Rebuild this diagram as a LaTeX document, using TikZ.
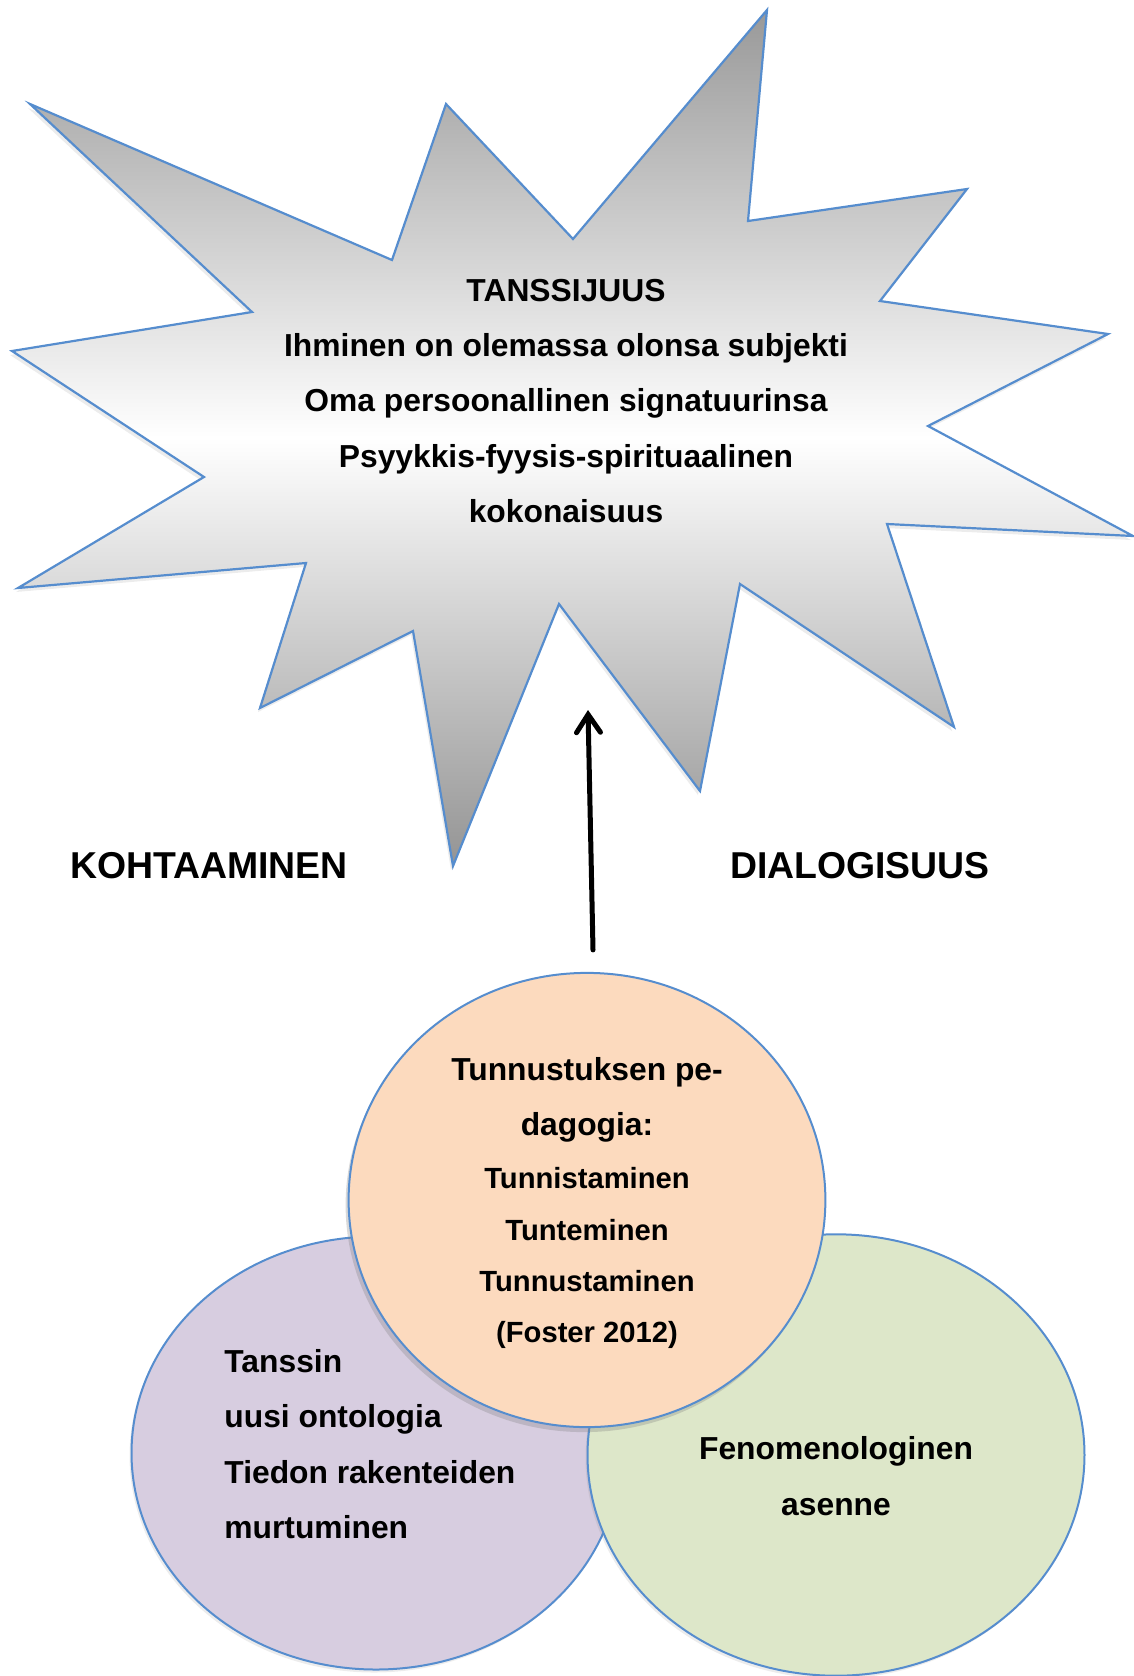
\documentclass[tikz,border=0pt]{standalone}
\usepackage{fontspec}
\setmainfont{Liberation Sans}
\usetikzlibrary{arrows.meta,positioning,shapes.geometric,shadows}

\definecolor{edgeblue}{RGB}{86,141,206}
\definecolor{peach}{RGB}{252,218,190}
\definecolor{lilac}{RGB}{215,205,224}
\definecolor{sage}{RGB}{221,231,201}
\pgfdeclareverticalshading{burstshade}{100bp}{color(0bp)=(black!42); color(25bp)=(black!42); color(50bp)=(white); color(75bp)=(black!40); color(100bp)=(black!40)}

\begin{document}
\begin{tikzpicture}[
  x=0.5pt, y=-0.5pt,
  font=\bfseries,
  burst/.style={draw=edgeblue, line width=1.1pt, shading=burstshade, line join=miter},
  blob/.style={ellipse, draw=edgeblue, line width=1pt, inner sep=0pt},
  txt/.style={inner sep=0pt, align=center, font=\bfseries\fontsize{15.9}{27.7}\selectfont},
  side/.style={inner sep=0pt, font=\bfseries\fontsize{18.7}{22}\selectfont},
  arr/.style={-{Straight Barb[length=9pt,width=12pt,line cap=round]}, line width=2.5pt, line cap=round}
]
\useasboundingbox (0,0) rectangle (1134,1676);

% star
\path[burst, drop shadow={shadow xshift=-1pt, shadow yshift=-2pt, opacity=.15}]
  (30,104) -- (392,260) -- (446,104) -- (573,239) -- (767,10) -- (748,221)
  -- (967,189) -- (880,301) -- (1108,334) -- (928,426) -- (1133,536)
  -- (887,524) -- (954,727) -- (740,584) -- (700,791) -- (559,604)
  -- (453,866) -- (413,631) -- (260,708) -- (306,563) -- (18,588)
  -- (204,477) -- (12,351) -- (252,312) -- cycle;
\node[txt] (core) at (566,401)
  {TANSSIJUUS\\Ihminen on olemassa olonsa subjekti\\Oma persoonallinen signatuurinsa\\Psyykkis-fyysis-spirituaalinen\\kokonaisuus};

\node[side] (koht) at (209,866) {KOHTAAMINEN};
\node[side] (dial) at (860,866) {DIALOGISUUS};

% circles
\node[blob, fill=lilac, minimum width=244.5pt, minimum height=216.5pt,
  drop shadow={shadow xshift=-1pt, shadow yshift=-1.5pt, opacity=.15}] (onto) at (376,1453) {};
\node[blob, fill=sage, minimum width=248.5pt, minimum height=220.7pt,
  drop shadow={shadow xshift=-1pt, shadow yshift=-1.5pt, opacity=.15}] (fen) at (836,1455) {};
\node[blob, fill=peach, minimum width=238.4pt, minimum height=227.1pt,
  drop shadow={shadow xshift=-1.5pt, shadow yshift=-2.5pt, opacity=.3}] (ped) at (587,1200) {};

\node[txt, font=\bfseries\fontsize{14.6}{25.6}\selectfont] (pedtxt) at ([yshift=-1.5pt]ped)
  {{\fontsize{15.9}{27.7}\selectfont Tunnustuksen pe-}\\[2pt]{\fontsize{15.9}{27.7}\selectfont dagogia:}\\[1pt]Tunnistaminen\\Tunteminen\\Tunnustaminen\\(Foster 2012)};
\node[txt, align=left, anchor=west] (ontotxt) at (224,1444)
  {Tanssin\\uusi ontologia\\Tiedon rakenteiden\\murtuminen};
\node[txt] (fentxt) at (836,1476) {Fenomenologinen\\asenne};

\coordinate (tip) at (588,710);
\draw[arr] ([shift={(6,-22)}]ped.north) -- (tip);
\end{tikzpicture}
\end{document}
